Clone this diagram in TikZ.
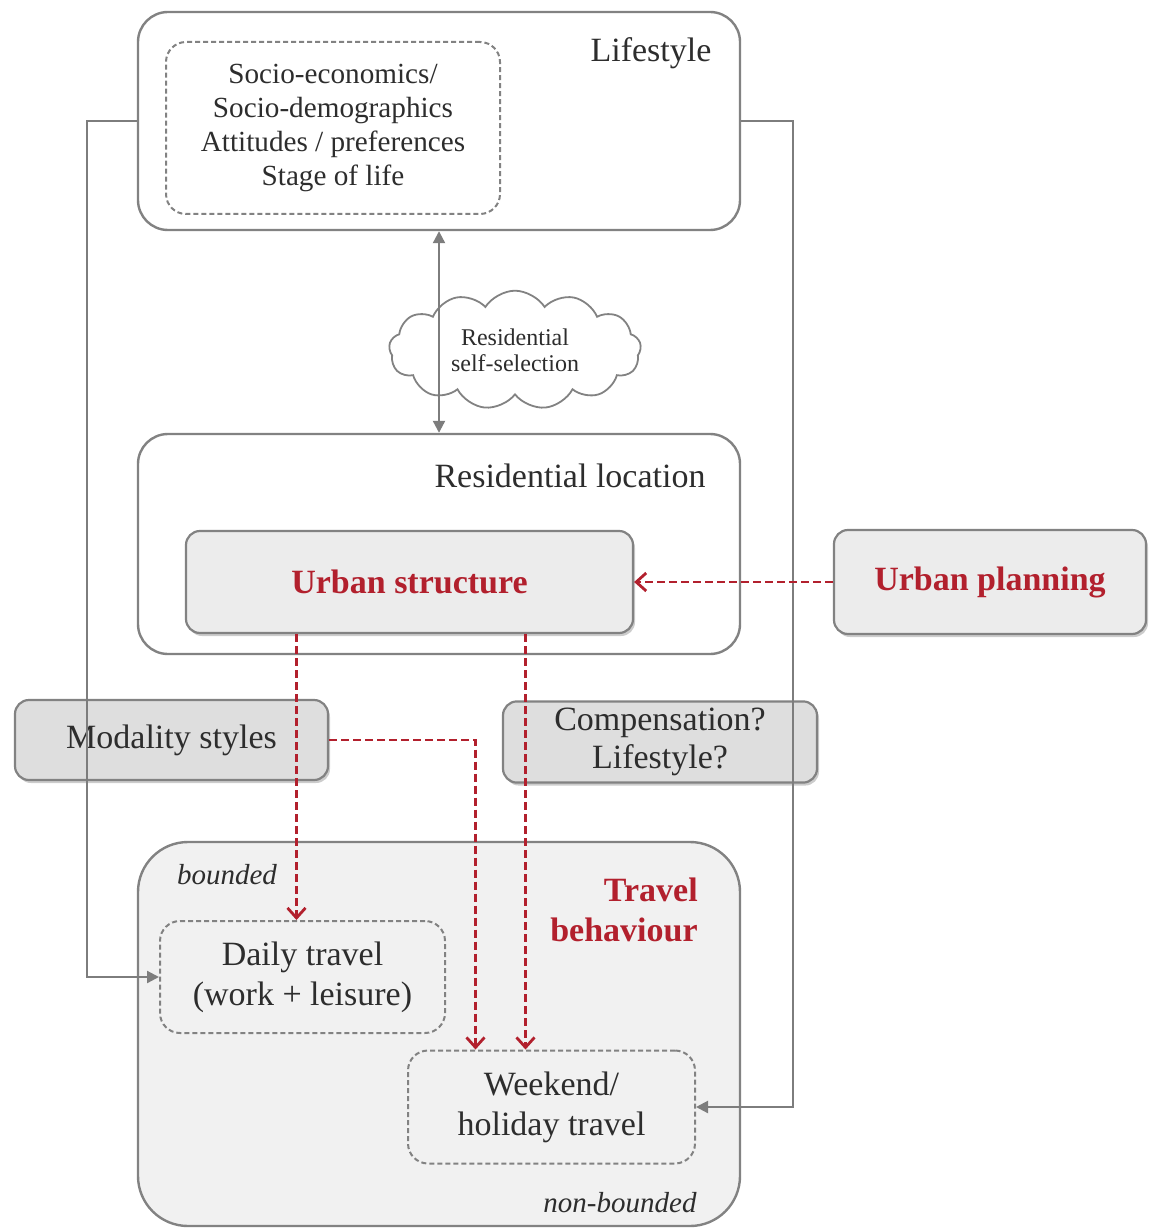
\documentclass[tikz,border=0pt]{standalone}
\usepackage{fontspec}
\setmainfont{Liberation Serif}
\usetikzlibrary{arrows.meta,shapes.symbols,shadows,calc}
\definecolor{framegrey}{RGB}{130,130,130}
\definecolor{linkgrey}{RGB}{125,125,125}
\definecolor{darkred}{RGB}{178,32,45}
\definecolor{boxfill}{RGB}{236,236,236}
\definecolor{tbfill}{RGB}{241,241,241}
\definecolor{modfill}{RGB}{222,222,222}
\definecolor{textgrey}{RGB}{45,45,45}
\begin{document}
\begin{tikzpicture}[x=0.5pt,y=-0.5pt,
  frame/.style={draw=framegrey,line width=1.2pt,rounded corners=15pt,minimum width=301pt},
  dashbox/.style={draw=framegrey,dash pattern=on 2.5pt off 1.5pt,line width=1pt,rounded corners=10pt,align=center,text=textgrey},
  shadebox/.style={draw=framegrey,line width=1.1pt,rounded corners=7pt,align=center,text=textgrey,
    drop shadow={shadow xshift=1pt,shadow yshift=-1.5pt,opacity=0.4}},
  greylink/.style={draw=linkgrey,line width=1.1pt,-{Triangle[length=6pt,width=6pt]}},
  redlink/.style={draw=darkred,line width=1.4pt,dash pattern=on 4pt off 2pt,-{Straight Barb[length=5pt,width=9pt]}},
  redtext/.style={text=darkred,font=\fontsize{17}{20}\selectfont\bfseries},
  bigtext/.style={font=\fontsize{17}{20}\selectfont},
  smalltext/.style={font=\fontsize{14.6}{17}\selectfont}]
\useasboundingbox (0,0) rectangle (1148,1229);

\node[frame,minimum height=109pt] (life) at (439,121) {};
\node[dashbox,smalltext,minimum width=167pt,minimum height=86pt] (socio) at (333,128)
  {Socio-economics/\\Socio-demographics\\Attitudes / preferences\\Stage of life};
\node[bigtext,text=textgrey] (lifelabel) at (651,53) {Lifestyle};

\node[cloud,cloud puffs=13,cloud puff arc=115,aspect=2.1,draw=framegrey,line width=0.9pt,fill=white,
  minimum width=126pt,minimum height=58pt,align=center,text=textgrey,font=\fontsize{12}{13}\selectfont]
  (selfsel) at (515,350) {Residential\\self-selection};

\node[frame,minimum height=110pt] (resloc) at (439,544) {};
\node[bigtext,text=textgrey] (reslabel) at (570,476) {Residential location};
\node[shadebox,fill=boxfill,redtext,minimum width=223.5pt,minimum height=51pt] (urban) at (409.5,582) {Urban structure};
\node[shadebox,fill=boxfill,redtext,minimum width=156pt,minimum height=52pt] (plan) at (990,582) {Urban planning};

\node[shadebox,fill=modfill,bigtext,minimum width=156.5pt,minimum height=40pt] (modal) at (171.5,740) {Modality styles};
\node[shadebox,fill=modfill,font=\fontsize{17}{19}\selectfont,minimum width=157pt,minimum height=40pt] (comp) at (660,742) {Compensation?\\Lifestyle?};

\node[frame,fill=tbfill,rounded corners=25pt,minimum height=192pt] (travel) at (439,1034) {};
\node[font=\fontsize{14.5}{17}\selectfont\itshape,text=textgrey] (bounded) at (227,875) {bounded};
\node[redtext,align=right] (tblabel) at (624,910) {Travel\\behaviour};
\node[dashbox,bigtext,fill=tbfill,minimum width=142.5pt,minimum height=56pt] (daily) at (302.5,977) {Daily travel\\(work + leisure)};
\node[dashbox,bigtext,fill=tbfill,minimum width=143.5pt,minimum height=56.5pt] (weekend) at (551.5,1107) {Weekend/\\holiday travel};
\node[font=\fontsize{14.5}{17}\selectfont\itshape,text=textgrey] (nonbounded) at (620,1203) {non-bounded};

\coordinate (wa) at ($(weekend.north)+(-76,0)$);
\coordinate (wb) at ($(weekend.north)+(-26,0)$);
\coordinate (da) at ($(daily.north)+(-6,0)$);

\draw[greylink,{Triangle[length=6pt,width=6pt]}-{Triangle[length=6pt,width=6pt]}] (life.south) -- (resloc.north);
\draw[greylink] (life.west) -- ++(-50,0) |- (daily.west);
\draw[greylink] (life.east) -- ++(52,0) |- (weekend.east);

\draw[redlink] (plan.west) -- (urban.east);
\draw[redlink] (urban.south -| da) -- (da);
\draw[redlink] (urban.south -| wb) -- (wb);
\draw[redlink] (modal.east) -| (wa);
\end{tikzpicture}
\end{document}
